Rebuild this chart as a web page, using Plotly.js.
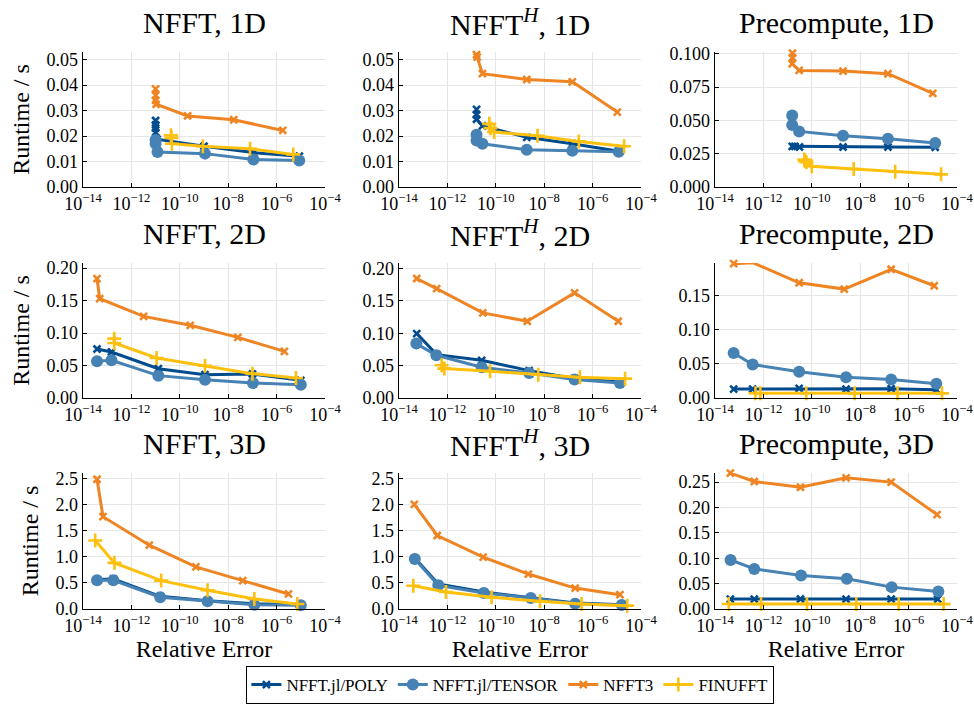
<!DOCTYPE html>
<html><head><meta charset="utf-8">
<script src="https://cdn.plot.ly/plotly-3.0.1.min.js"></script>
<style>html,body{margin:0;padding:0;background:#fff}#chart{width:974px;height:704px}</style>
</head><body><div id="chart"></div>
<script>
// ---------- DATA (relative error vs runtime / s) ----------
const seriesNames = ['NFFT.jl/POLY', 'NFFT.jl/TENSOR', 'NFFT3', 'FINUFFT'];
const panelTitles = ['NFFT, 1D', 'NFFT<sup><i>H</i></sup>, 1D', 'Precompute, 1D',
                     'NFFT, 2D', 'NFFT<sup><i>H</i></sup>, 2D', 'Precompute, 2D',
                     'NFFT, 3D', 'NFFT<sup><i>H</i></sup>, 3D', 'Precompute, 3D'];
const xTickVals = [1e-14, 1e-12, 1e-10, 1e-8, 1e-6, 1e-4];
const xTickText = ['10<sup>−14</sup>', '10<sup>−12</sup>', '10<sup>−10</sup>', '10<sup>−8</sup>', '10<sup>−6</sup>', '10<sup>−4</sup>'];

// NFFT, 1D
const NFFT_1D_POLY_err = [1.0e-11, 1.0e-11, 1.0e-11, 1.0e-11, 1.15e-11, 1.0e-9, 1.1e-7, 8.7e-6];
const NFFT_1D_POLY_time = [0.0261, 0.0244, 0.0231, 0.0214, 0.0188, 0.016, 0.0135, 0.0121];
const NFFT_1D_TENSOR_err = [1.0e-11, 1.0e-11, 1.2e-11, 1.1e-9, 1.1e-7, 8.6e-6];
const NFFT_1D_TENSOR_time = [0.0185, 0.017, 0.0137, 0.0131, 0.0108, 0.0104];
const NFFT_1D_NFFT3_err = [1.0e-11, 1.0e-11, 1.0e-11, 1.05e-11, 2.1e-10, 1.7e-8, 1.8e-6];
const NFFT_1D_NFFT3_time = [0.0385, 0.036, 0.034, 0.0325, 0.0279, 0.0264, 0.0222];
const NFFT_1D_FINUFFT_err = [4.3e-11, 4.5e-11, 4.7e-11, 9e-10, 8e-8, 4.9e-6];
const NFFT_1D_FINUFFT_time = [0.0203, 0.0193, 0.017, 0.016, 0.015, 0.0128];

// NFFT^H, 1D
const ADJ_1D_POLY_err = [1.6e-11, 1.6e-11, 1.6e-11, 2.8e-11, 1.9e-9, 1.45e-7, 1.2e-5];
const ADJ_1D_POLY_time = [0.0305, 0.0283, 0.0266, 0.024, 0.0195, 0.017, 0.014];
const ADJ_1D_TENSOR_err = [1.6e-11, 1.6e-11, 2.8e-11, 1.9e-9, 1.45e-7, 1.2e-5];
const ADJ_1D_TENSOR_time = [0.0205, 0.0183, 0.017, 0.0146, 0.0142, 0.0138];
const ADJ_1D_NFFT3_err = [1.6e-11, 1.7e-11, 2.8e-11, 1.9e-9, 1.45e-7, 1.05e-5];
const ADJ_1D_NFFT3_time = [0.052, 0.051, 0.0445, 0.0422, 0.0413, 0.0294];
const ADJ_1D_FINUFFT_err = [5.4e-11, 6e-11, 8.5e-11, 5.3e-9, 2.7e-7, 2e-5];
const ADJ_1D_FINUFFT_time = [0.0248, 0.0231, 0.0216, 0.0201, 0.0179, 0.016];

// Precompute, 1D
const PRE_1D_POLY_err = [1.55e-11, 2.0e-11, 3.1e-11, 1.95e-9, 1.4e-7, 1.26e-5];
const PRE_1D_POLY_time = [0.0305, 0.0305, 0.030, 0.030, 0.030, 0.0298];
const PRE_1D_TENSOR_err = [1.55e-11, 1.55e-11, 3e-11, 1.95e-9, 1.4e-7, 1.26e-5];
const PRE_1D_TENSOR_time = [0.0536, 0.0466, 0.0417, 0.0385, 0.0362, 0.033];
const PRE_1D_NFFT3_err = [1.6e-11, 1.6e-11, 1.55e-11, 3e-11, 1.95e-9, 1.4e-7, 1e-5];
const PRE_1D_NFFT3_time = [0.1005, 0.097, 0.0925, 0.0875, 0.087, 0.085, 0.0702];
const PRE_1D_FINUFFT_err = [4.9e-11, 5.2e-11, 6e-11, 1e-10, 5.4e-9, 2.8e-7, 2.2e-5];
const PRE_1D_FINUFFT_time = [0.0206, 0.0195, 0.0186, 0.0156, 0.0135, 0.0114, 0.0095];

// NFFT, 2D
const NFFT_2D_POLY_err = [3.8e-14, 1.5e-13, 1.3e-11, 1.1e-9, 1e-7, 1e-5];
const NFFT_2D_POLY_time = [0.0754, 0.0708, 0.0451, 0.0359, 0.0369, 0.0272];
const NFFT_2D_TENSOR_err = [3.8e-14, 1.5e-13, 1.3e-11, 1.1e-9, 1.05e-7, 1e-5];
const NFFT_2D_TENSOR_time = [0.0564, 0.058, 0.0344, 0.0282, 0.023, 0.0205];
const NFFT_2D_NFFT3_err = [3.8e-14, 4.9e-14, 3.2e-12, 2.7e-10, 2.5e-8, 2.1e-6];
const NFFT_2D_NFFT3_time = [0.1836, 0.1528, 0.1256, 0.1118, 0.0933, 0.0718];
const NFFT_2D_FINUFFT_err = [1.95e-13, 1.95e-13, 1.1e-11, 1.1e-9, 1e-7, 6.3e-6];
const NFFT_2D_FINUFFT_time = [0.0913, 0.0846, 0.0615, 0.0497, 0.0374, 0.0308];

// NFFT^H, 2D
const ADJ_2D_POLY_err = [5.4e-14, 3.6e-13, 2.6e-11, 2.4e-9, 1.8e-7, 1.35e-5];
const ADJ_2D_POLY_time = [0.0995, 0.067, 0.0582, 0.0423, 0.030, 0.0247];
const ADJ_2D_TENSOR_err = [5.2e-14, 3.5e-13, 2.6e-11, 2.4e-9, 1.8e-7, 1.35e-5];
const ADJ_2D_TENSOR_time = [0.084, 0.066, 0.0474, 0.0387, 0.0284, 0.0232];
const ADJ_2D_NFFT3_err = [5.4e-14, 3.6e-13, 2.9e-11, 2e-9, 1.8e-7, 1.15e-5];
const ADJ_2D_NFFT3_time = [0.1845, 0.169, 0.1314, 0.1186, 0.1624, 0.1186];
const ADJ_2D_FINUFFT_err = [5.8e-13, 7.5e-13, 5.8e-11, 5.7e-9, 3e-7, 2.2e-5];
const ADJ_2D_FINUFFT_time = [0.0505, 0.0454, 0.0412, 0.036, 0.032, 0.0299];

// Precompute, 2D
const PRE_2D_POLY_err = [5.9e-14, 3.6e-13, 3e-11, 2.6e-9, 1.9e-7, 1.4e-5];
const PRE_2D_POLY_time = [0.0131, 0.0131, 0.0141, 0.0131, 0.0136, 0.0121];
const PRE_2D_TENSOR_err = [5.9e-14, 3.6e-13, 3e-11, 2.6e-9, 1.9e-7, 1.4e-5];
const PRE_2D_TENSOR_time = [0.066, 0.049, 0.0384, 0.0306, 0.0272, 0.0209];
const PRE_2D_NFFT3_err = [5.9e-14, 3.6e-13, 3e-11, 2.2e-9, 1.9e-7, 1.15e-5];
const PRE_2D_NFFT3_time = [0.197, 0.1985, 0.169, 0.1597, 0.1888, 0.1646];
const PRE_2D_FINUFFT_err = [4.7e-13, 7.5e-13, 5.9e-11, 5.9e-9, 3.5e-7, 2.4e-5];
const PRE_2D_FINUFFT_time = [0.0070, 0.0068, 0.0069, 0.0068, 0.0069, 0.0068];

// NFFT, 3D
const NFFT_3D_POLY_err = [3.8e-14, 1.8e-13, 1.55e-11, 1.4e-9, 1.2e-7, 1e-5];
const NFFT_3D_POLY_time = [0.563, 0.575, 0.243, 0.16, 0.10, 0.083];
const NFFT_3D_TENSOR_err = [3.8e-14, 1.8e-13, 1.55e-11, 1.4e-9, 1.2e-7, 1e-5];
const NFFT_3D_TENSOR_time = [0.55, 0.55, 0.224, 0.147, 0.083, 0.07];
const NFFT_3D_NFFT3_err = [3.8e-14, 6.7e-14, 5.5e-12, 4.6e-10, 4e-8, 3.1e-6];
const NFFT_3D_NFFT3_time = [2.48, 1.765, 1.22, 0.806, 0.543, 0.288];
const NFFT_3D_FINUFFT_err = [3.2e-14, 2e-13, 1.7e-11, 1.4e-9, 1.2e-7, 7.2e-6];
const NFFT_3D_FINUFFT_time = [1.31, 0.882, 0.543, 0.358, 0.192, 0.096];

// NFFT^H, 3D
const ADJ_3D_POLY_err = [4.5e-14, 4.2e-13, 3.2e-11, 2.8e-9, 1.9e-7, 1.6e-5];
const ADJ_3D_POLY_time = [0.973, 0.477, 0.324, 0.223, 0.115, 0.083];
const ADJ_3D_TENSOR_err = [4.5e-14, 4.2e-13, 3.2e-11, 2.8e-9, 1.9e-7, 1.6e-5];
const ADJ_3D_TENSOR_time = [0.954, 0.452, 0.305, 0.21, 0.10, 0.076];
const ADJ_3D_NFFT3_err = [4.3e-14, 3.8e-13, 3e-11, 2.2e-9, 1.9e-7, 1.35e-5];
const ADJ_3D_NFFT3_time = [2.0, 1.405, 0.992, 0.668, 0.40, 0.274];
const ADJ_3D_FINUFFT_err = [3.9e-14, 8.7e-13, 6.7e-11, 6.7e-9, 3.5e-7, 2.7e-5];
const ADJ_3D_FINUFFT_time = [0.445, 0.324, 0.223, 0.146, 0.095, 0.064];

// Precompute, 3D
const PRE_3D_POLY_err = [4.3e-14, 4.2e-13, 3.4e-11, 2.6e-9, 1.9e-7, 1.6e-5];
const PRE_3D_POLY_time = [0.0196, 0.0196, 0.0197, 0.0196, 0.0195, 0.0196];
const PRE_3D_TENSOR_err = [4.4e-14, 4.2e-13, 3.6e-11, 2.8e-9, 2e-7, 1.7e-5];
const PRE_3D_TENSOR_time = [0.0966, 0.079, 0.066, 0.0594, 0.0431, 0.0346];
const PRE_3D_NFFT3_err = [4.3e-14, 4.2e-13, 3.4e-11, 2.6e-9, 1.9e-7, 1.5e-5];
const PRE_3D_NFFT3_time = [0.2676, 0.2513, 0.240, 0.2585, 0.25, 0.186];
const PRE_3D_FINUFFT_err = [3.7e-14, 8e-13, 6.3e-11, 6.9e-9, 3.9e-7, 2.8e-5];
const PRE_3D_FINUFFT_time = [0.0098, 0.0098, 0.0099, 0.0098, 0.0098, 0.0097];

// y tick labels per panel
const yTicks_1D_a = ['0.00', '0.01', '0.02', '0.03', '0.04', '0.05'];
const yTicks_1D_pre = ['0.000', '0.025', '0.050', '0.075', '0.100'];
const yTicks_2D_a = ['0.00', '0.05', '0.10', '0.15', '0.20'];
const yTicks_2D_pre = ['0.00', '0.05', '0.10', '0.15'];
const yTicks_3D_a = ['0.0', '0.5', '1.0', '1.5', '2.0', '2.5'];
const yTicks_3D_pre = ['0.00', '0.05', '0.10', '0.15', '0.20', '0.25'];

// ---------- PANELS ----------
const panels = [
  {data: [[NFFT_1D_POLY_err, NFFT_1D_POLY_time], [NFFT_1D_TENSOR_err, NFFT_1D_TENSOR_time], [NFFT_1D_NFFT3_err, NFFT_1D_NFFT3_time], [NFFT_1D_FINUFFT_err, NFFT_1D_FINUFFT_time]], ymax: 0.053, yt: yTicks_1D_a},
  {data: [[ADJ_1D_POLY_err, ADJ_1D_POLY_time], [ADJ_1D_TENSOR_err, ADJ_1D_TENSOR_time], [ADJ_1D_NFFT3_err, ADJ_1D_NFFT3_time], [ADJ_1D_FINUFFT_err, ADJ_1D_FINUFFT_time]], ymax: 0.053, yt: yTicks_1D_a},
  {data: [[PRE_1D_POLY_err, PRE_1D_POLY_time], [PRE_1D_TENSOR_err, PRE_1D_TENSOR_time], [PRE_1D_NFFT3_err, PRE_1D_NFFT3_time], [PRE_1D_FINUFFT_err, PRE_1D_FINUFFT_time]], ymax: 0.1013, yt: yTicks_1D_pre},
  {data: [[NFFT_2D_POLY_err, NFFT_2D_POLY_time], [NFFT_2D_TENSOR_err, NFFT_2D_TENSOR_time], [NFFT_2D_NFFT3_err, NFFT_2D_NFFT3_time], [NFFT_2D_FINUFFT_err, NFFT_2D_FINUFFT_time]], ymax: 0.2077, yt: yTicks_2D_a},
  {data: [[ADJ_2D_POLY_err, ADJ_2D_POLY_time], [ADJ_2D_TENSOR_err, ADJ_2D_TENSOR_time], [ADJ_2D_NFFT3_err, ADJ_2D_NFFT3_time], [ADJ_2D_FINUFFT_err, ADJ_2D_FINUFFT_time]], ymax: 0.2085, yt: yTicks_2D_a},
  {data: [[PRE_2D_POLY_err, PRE_2D_POLY_time], [PRE_2D_TENSOR_err, PRE_2D_TENSOR_time], [PRE_2D_NFFT3_err, PRE_2D_NFFT3_time], [PRE_2D_FINUFFT_err, PRE_2D_FINUFFT_time]], ymax: 0.198, yt: yTicks_2D_pre},
  {data: [[NFFT_3D_POLY_err, NFFT_3D_POLY_time], [NFFT_3D_TENSOR_err, NFFT_3D_TENSOR_time], [NFFT_3D_NFFT3_err, NFFT_3D_NFFT3_time], [NFFT_3D_FINUFFT_err, NFFT_3D_FINUFFT_time]], ymax: 2.6, yt: yTicks_3D_a},
  {data: [[ADJ_3D_POLY_err, ADJ_3D_POLY_time], [ADJ_3D_TENSOR_err, ADJ_3D_TENSOR_time], [ADJ_3D_NFFT3_err, ADJ_3D_NFFT3_time], [ADJ_3D_FINUFFT_err, ADJ_3D_FINUFFT_time]], ymax: 2.6, yt: yTicks_3D_a},
  {data: [[PRE_3D_POLY_err, PRE_3D_POLY_time], [PRE_3D_TENSOR_err, PRE_3D_TENSOR_time], [PRE_3D_NFFT3_err, PRE_3D_NFFT3_time], [PRE_3D_FINUFFT_err, PRE_3D_FINUFFT_time]], ymax: 0.268, yt: yTicks_3D_pre}
];

// ---------- STYLE ----------
const FONT = 'Liberation Serif';
const W = 974, H = 704;
const colPx = [[83, 325], [399, 641], [715, 957]];
const rowPx = [[52, 187], [263, 398], [473, 609]];
const titleY = [22, 233, 443];
const styles = [
  {color: '#004b8d', symbol: 'x-thin', size: 7, mlw: 2.6},
  {color: '#4682b4', symbol: 'circle', size: 12, mlw: 0},
  {color: '#ef8423', symbol: 'x-thin', size: 7, mlw: 2.6},
  {color: '#fdc00f', symbol: 'cross-thin', size: 10, mlw: 2.6}
];

const traces = [];
const layout = {
  width: W, height: H,
  margin: {l: 0, r: 0, t: 0, b: 0},
  paper_bgcolor: '#fff', plot_bgcolor: '#fff',
  font: {family: FONT, color: '#000', size: 17},
  showlegend: true,
  legend: {orientation: 'h', x: 0.524, xanchor: 'center', y: 0, yanchor: 'bottom',
           bordercolor: '#000', borderwidth: 1, font: {family: FONT, size: 17, color: '#000'},
           itemwidth: 30, tracegroupgap: 0, bgcolor: '#fff'},
  annotations: []
};

panels.forEach((p, i) => {
  const r = Math.floor(i / 3), c = i % 3;
  const ax = i === 0 ? '' : String(i + 1);
  const xd = [colPx[c][0] / W, colPx[c][1] / W];
  const yd = [1 - rowPx[r][1] / H, 1 - rowPx[r][0] / H];
  const ytv = p.yt.map(Number);
  layout['xaxis' + ax] = {
    domain: xd, anchor: 'y' + ax, type: 'log', range: [-14, -4],
    tickvals: xTickVals, ticktext: xTickText, tickfont: {family: FONT, size: 18, color: '#000'},
    showline: true, linecolor: '#000', linewidth: 1.3, mirror: false,
    ticks: 'inside', ticklen: 4, tickcolor: '#000',
    showgrid: true, gridcolor: '#e6e6e6', gridwidth: 1, zeroline: false,
    title: r === 2 ? {text: 'Relative Error', font: {family: FONT, size: 24, color: '#000'}, standoff: 5} : {text: ''}
  };
  layout['yaxis' + ax] = {
    domain: yd, anchor: 'x' + ax, range: [0, p.ymax],
    tickvals: ytv, ticktext: p.yt, tickfont: {family: FONT, size: 18, color: '#000'},
    showline: true, linecolor: '#000', linewidth: 1.3, mirror: false,
    ticks: 'inside', ticklen: 4, tickcolor: '#000',
    showgrid: true, gridcolor: '#e6e6e6', gridwidth: 1, zeroline: false,
    title: c === 0 ? {text: 'Runtime / s', font: {family: FONT, size: 24, color: '#000'}, standoff: 10} : {text: ''}
  };
  layout.annotations.push({
    text: panelTitles[i], xref: 'paper', yref: 'paper',
    x: (xd[0] + xd[1]) / 2, y: 1 - titleY[r] / H, xanchor: 'center', yanchor: 'middle',
    showarrow: false, font: {family: FONT, size: 30, color: '#000'}
  });
  p.data.forEach((d, s) => {
    const st = styles[s];
    traces.push({
      type: 'scatter', mode: 'lines+markers', x: d[0], y: d[1],
      xaxis: 'x' + ax, yaxis: 'y' + ax,
      name: seriesNames[s], legendgroup: seriesNames[s], showlegend: i === 0,
      line: {color: st.color, width: 3},
      marker: {symbol: st.symbol, size: st.size, color: st.color,
               line: {color: st.color, width: st.mlw}},
      cliponaxis: false
    });
  });
});

Plotly.newPlot('chart', traces, layout, {staticPlot: true, displayModeBar: false});
</script>
</body></html>
